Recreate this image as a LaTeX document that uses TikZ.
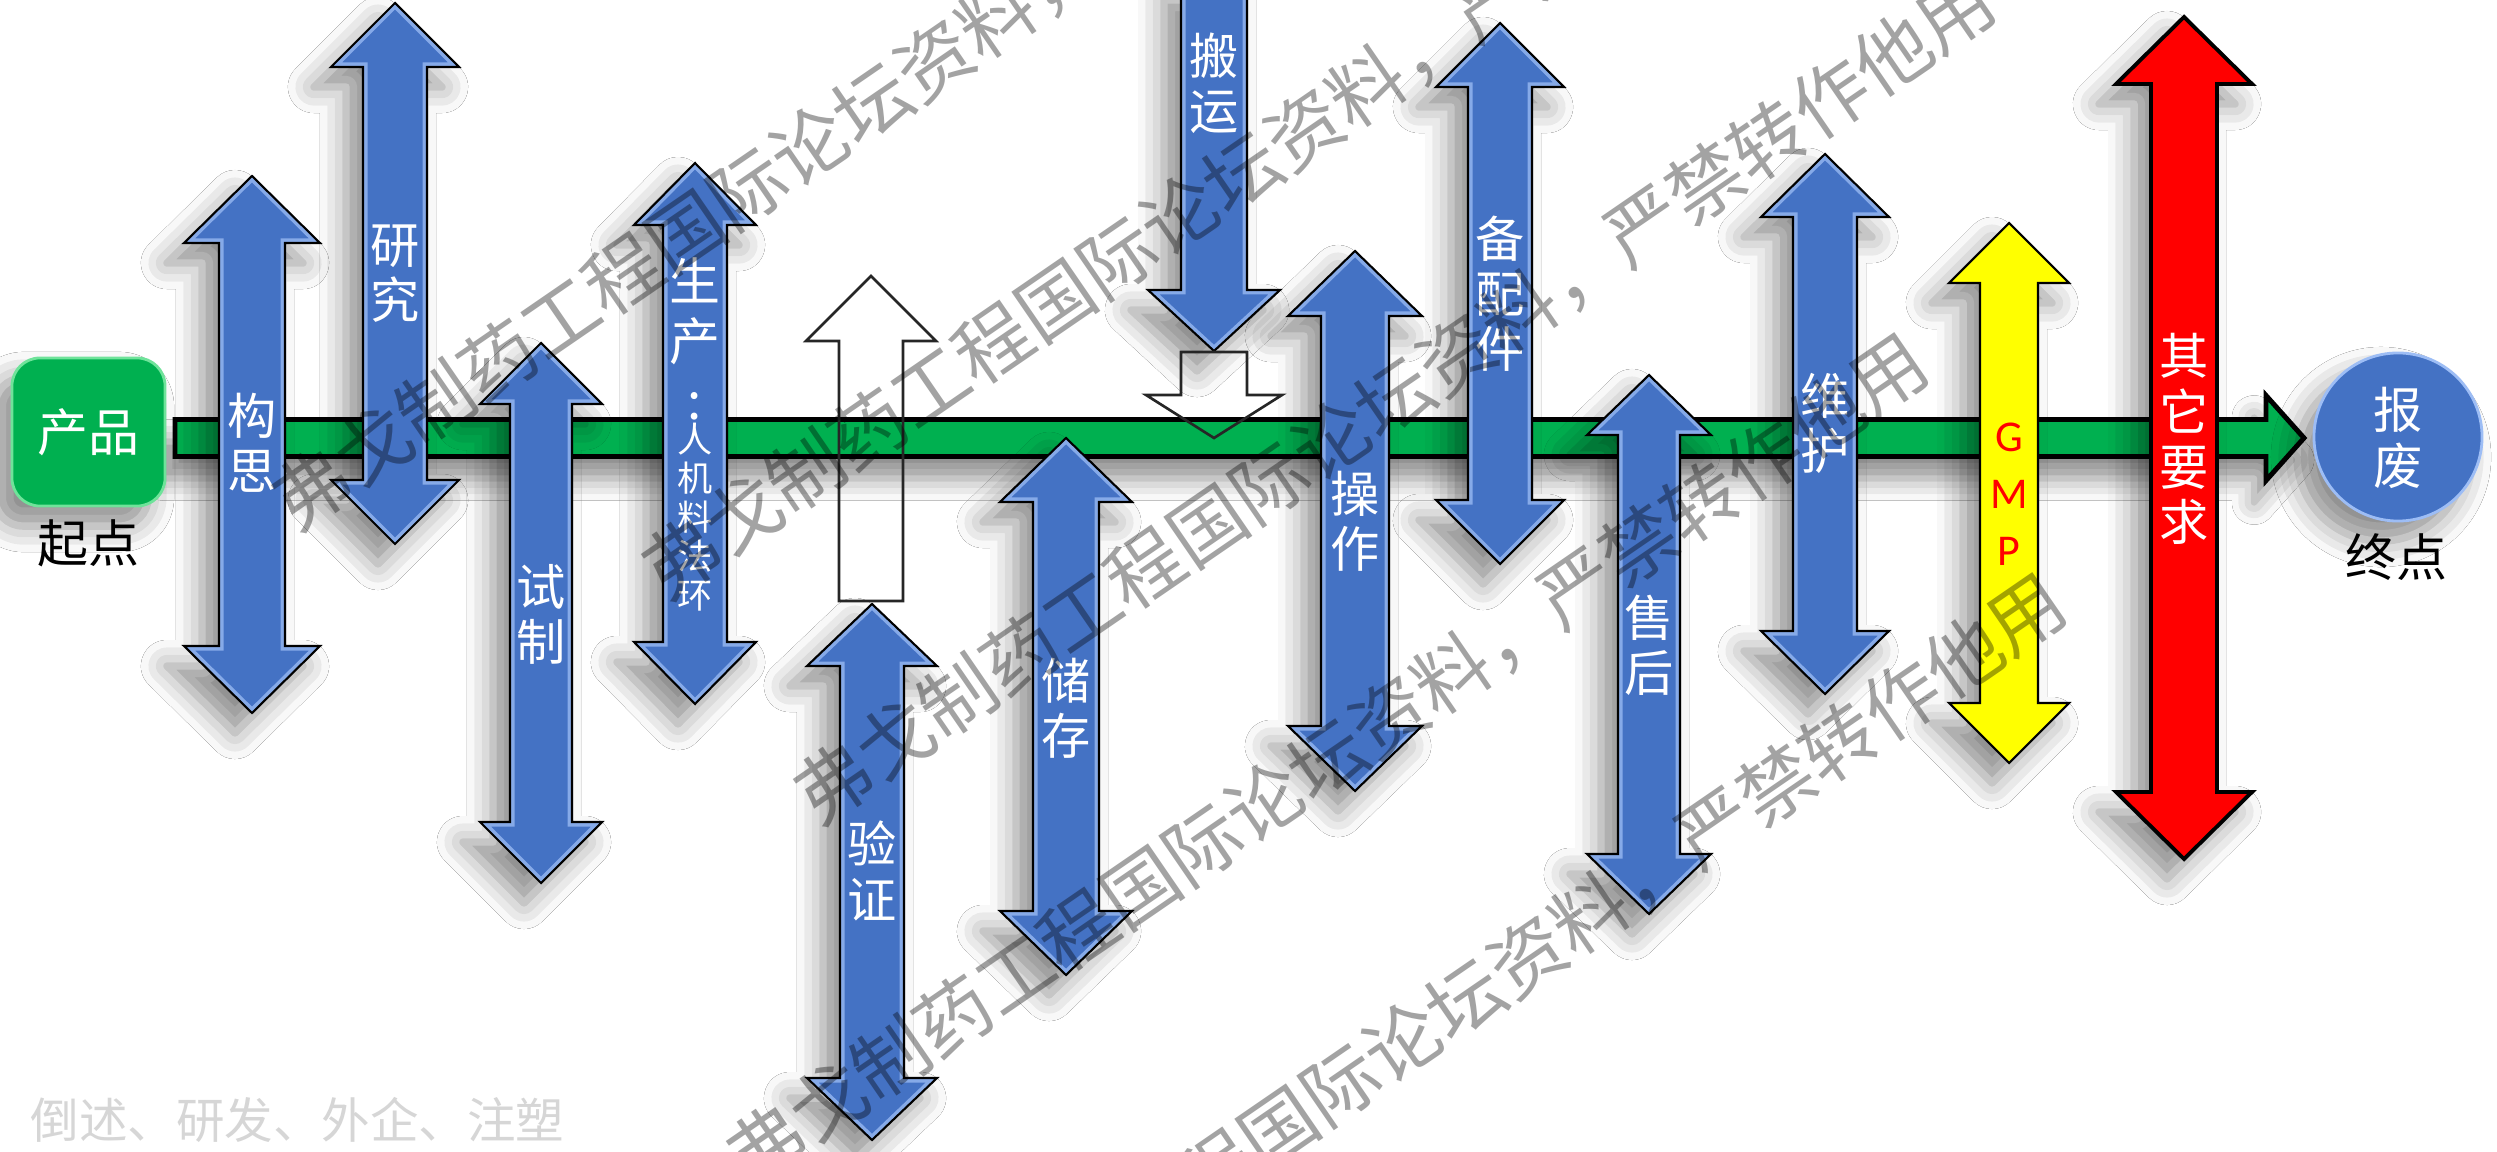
\documentclass[tikz,border=0pt]{standalone}
\usepackage{fontspec}
\newfontfamily\cjk{Noto Sans CJK SC}
\newfontfamily\carl{Carlito}
\usetikzlibrary{shadows.blur}
\definecolor{pblue}{HTML}{4472C4}
\definecolor{pbluehi}{HTML}{9DBDF5}
\definecolor{pgreen}{HTML}{00B050}
\definecolor{pgreenhi}{HTML}{6FE39A}
\definecolor{pred}{HTML}{FF0000}
\definecolor{pyellow}{HTML}{FFFF00}
\definecolor{notegray}{HTML}{D6D6D6}

% double arrow path: cx, top tip, bottom tip, shaft half width, head half width, head length
\newcommand\dblP[6]{(#1,#2) -- ({#1+#5},{#2+#6}) -- ({#1+#4},{#2+#6}) -- ({#1+#4},{#3-#6}) -- ({#1+#5},{#3-#6}) -- (#1,#3) -- ({#1-#5},{#3-#6}) -- ({#1-#4},{#3-#6}) -- ({#1-#4},{#2+#6}) -- ({#1-#5},{#2+#6}) -- cycle}

\tikzset{
  softshadow/.style={blur shadow={shadow xshift=-0.17cm, shadow yshift=-0.2cm, shadow blur radius=0.26cm, shadow opacity=45}},
  bevelhi/.style={draw=pbluehi, line width=0.09cm, draw opacity=0.75},
  arrowline/.style={draw=black, line width=0.6pt, line join=miter},
  hollowline/.style={draw=black!85, line width=0.75pt, line join=miter},
  vlabel/.style={text=white, font=\cjk\fontsize{14pt}{15.7pt}\selectfont, align=center, inner sep=0pt},
  smalllabel/.style={text=white, font=\cjk\fontsize{10pt}{11.1pt}\selectfont, align=center, inner sep=0pt},
  biglabel/.style={text=white, font=\cjk\fontsize{14.5pt}{17pt}\selectfont, align=center, inner sep=0pt},
  blacklabel/.style={text=black, font=\cjk\fontsize{14.5pt}{17pt}\selectfont, inner sep=0pt},
  wmark/.style={font=\cjk\fontsize{21.5pt}{21.5pt}\selectfont, text=black, text opacity=0.36, rotate=34.5, anchor=west, inner sep=0pt},
}

\newcommand\bluedbl[6]{%
  \fill[pblue, softshadow] \dblP{#1}{#2}{#3}{#4}{#5}{#6};
  \begin{scope}
    \clip \dblP{#1}{#2}{#3}{#4}{#5}{#6};
    \path[bevelhi] \dblP{#1}{#2}{#3}{#4}{#5}{#6};
  \end{scope}
  \path[arrowline] \dblP{#1}{#2}{#3}{#4}{#5}{#6};
}
\newcommand\coldbl[8]{%
  \fill[#1, softshadow] \dblP{#2}{#3}{#4}{#5}{#6}{#7};
  \path[draw=black, line width=#8, line join=miter] \dblP{#2}{#3}{#4}{#5}{#6}{#7};
}

\begin{document}
\begin{tikzpicture}[x=0.01cm, y=-0.01cm]
\useasboundingbox (0,0) rectangle (2497,1152);
\fill[white] (0,0) rectangle (2497,1152);
\clip (0,0) rectangle (2497,1152);

% main green arrow
\path[fill=pgreen, draw=black, line width=1.4pt, line join=miter,
  blur shadow={shadow xshift=-0.12cm, shadow yshift=-0.22cm, shadow blur radius=0.22cm, shadow opacity=45}]
  (175,419.5) -- (2266,419.5) -- (2266,395.5) -- (2304,438) -- (2266,480.5) -- (2266,456.5) -- (175,456.5) -- cycle;

% vertical blue double arrows
\bluedbl{252}{176}{713}{33}{68}{67}
\bluedbl{395}{3}{544}{32}{64}{64}
\bluedbl{541}{343}{883}{31}{61}{61}
\bluedbl{695}{163}{704}{32}{61}{62}
\bluedbl{872}{604}{1140}{32}{65}{62}
\bluedbl{1066}{438}{975}{33}{66}{64}
\bluedbl{1355}{251}{791}{34}{67}{65}
\bluedbl{1500}{23}{564}{32}{64}{64}
\bluedbl{1649}{375}{914}{31}{62}{60}
\bluedbl{1825}{154}{694}{32}{64}{63}

% GMP (yellow) and other requirements (red)
\coldbl{pyellow}{2009}{223}{763}{29}{60}{60}{0.6pt}
\coldbl{pred}{2184}{17}{859}{33}{68}{67}{1.1pt}

% single down arrow (transport)
\fill[pblue, softshadow] (1181,-20) -- (1247,-20) -- (1247,290) -- (1280,290) -- (1214,351) -- (1148,290) -- (1181,290) -- cycle;
\begin{scope}
  \clip (1181,-20) -- (1247,-20) -- (1247,290) -- (1280,290) -- (1214,351) -- (1148,290) -- (1181,290) -- cycle;
  \path[bevelhi] (1181,-20) -- (1247,-20) -- (1247,290) -- (1280,290) -- (1214,351) -- (1148,290) -- (1181,290) -- cycle;
\end{scope}
\path[arrowline] (1181,-20) -- (1247,-20) -- (1247,290) -- (1280,290) -- (1214,351) -- (1148,290) -- (1181,290) -- cycle;

% hollow arrows
\path[hollowline] (839,601) -- (839,341) -- (806,341) -- (871,276) -- (936,341) -- (903,341) -- (903,601) -- cycle;
\path[hollowline] (1181,352) -- (1247,352) -- (1247,395) -- (1282,395) -- (1214,438) -- (1146,395) -- (1181,395) -- cycle;

% start and end
\node[fill=pgreen, rounded corners=0.28cm, minimum width=1.53cm, minimum height=1.48cm, inner sep=0pt,
  draw=pgreenhi, line width=0.8pt, softshadow, biglabel] (prod) at (88.5,432) {产品};
\node[blacklabel] (start) at (88,543) {起点};
\node[circle, fill=pblue, draw=pbluehi, line width=0.8pt, minimum size=1.68cm, inner sep=0pt, softshadow] (scrap) at (2398,437) {};
\node[vlabel] (scraptext) at (2398,438) {报\\废};
\node[blacklabel] (finish) at (2396,557) {终点};

% labels on arrows
\node[vlabel] (l1) at (252,443) {构\\思};
\node[vlabel] (l2) at (395,274) {研\\究};
\node[vlabel] (l3) at (541,614) {试\\制};
\node[biglabel] (l4a) at (695,339) {生\\产\\:};
\node[smalllabel] (l4b) at (695,517) {人\\机\\料\\法\\环};
\node[vlabel] (l5) at (872,871) {验\\证};
\node[vlabel] (l6) at (1066,708) {储\\存};
\node[vlabel] (l7) at (1214,83) {搬\\运};
\node[vlabel] (l8) at (1355,521) {操\\作};
\node[vlabel] (l9) at (1500,294) {备\\配\\件};
\node[vlabel] (l10) at (1649,645) {售\\后};
\node[vlabel] (l11) at (1825,423) {维\\护};
\node[text=pred, font=\carl\fontsize{12.5pt}{16.2pt}\selectfont, align=center, inner sep=0pt] (l12) at (2009,494) {G\\M\\P};
\node[vlabel] (l13) at (2184,439) {其\\它\\要\\求};

% note at bottom
\node[text=notegray, font=\cjk\fontsize{13.8pt}{16pt}\selectfont, anchor=west, inner sep=0pt] (note) at (30,1120) {倒述、研发、外企、注塑};

% watermark
\node[wmark] (wm1) at (280,511) {弗戈制药工程国际论坛资料，严禁转作他用};
\node[wmark] (wm2) at (650,580) {弗戈制药工程国际论坛资料，严禁转作他用};
\node[wmark] (wm3) at (802,805) {弗戈制药工程国际论坛资料，严禁转作他用};
\node[wmark] (wm4) at (735,1167) {弗戈制药工程国际论坛资料，严禁转作他用};
\node[wmark] (wm5) at (873,1407) {弗戈制药工程国际论坛资料，严禁转作他用};
\end{tikzpicture}
\end{document}
